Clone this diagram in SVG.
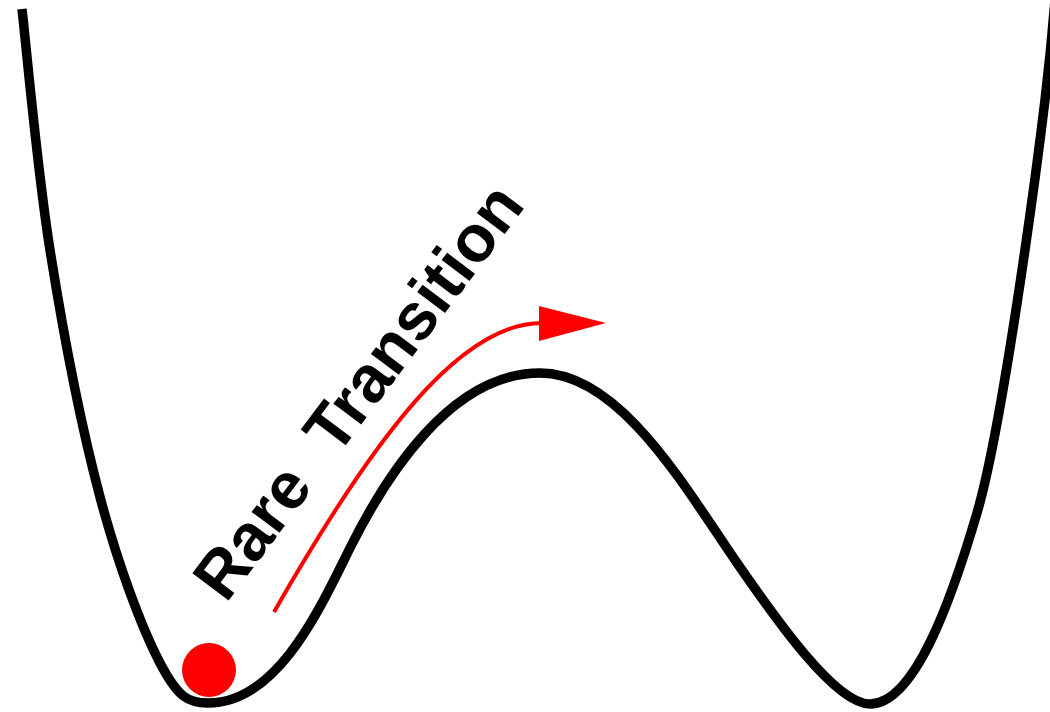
<svg xmlns="http://www.w3.org/2000/svg" width="1050" height="712" viewBox="0 0 1050 712">
<style>
.well{fill:none;stroke:#000;stroke-width:9.5;stroke-linecap:butt;stroke-linejoin:round}
.path{fill:none;stroke:#ff0000;stroke-width:4}
.label{font-family:"Liberation Sans",Arial,sans-serif;font-weight:bold;font-size:66px;fill:#000}
</style>
<rect width="1050" height="712" fill="#fff"/>
<g id="potential">
<path class="well" d="M22,9 C26.7,50 37,168 50,250 C63,332 81.7,428.2 100,497 C118.3,565.8 142,628.7 160,663 C178,697.3 188,703 208,703 C278,703 320,608 350,548 C385,478 450,373 540,373 C620,373 685,487.5 735,560 C775,618 835,704 870,704 C915,704 952,598 977,513 C1002,428 1035,183 1045,100 C1050,58 1053,25 1055,0"/>
</g>
<g id="ball">
<circle cx="209" cy="670" r="27" fill="#ff0000"/>
</g>
<g id="connectors">
<path class="path" d="M274,612 C374,437 460,323 542,323"/>
<polygon points="539,306 606,323 539,341" fill="#ff0000"/>
</g>
<g id="label">
<text class="label" transform="translate(226,604) rotate(-53)" x="0" y="0" xml:space="preserve">Rare  Transition</text>
</g>
</svg>
